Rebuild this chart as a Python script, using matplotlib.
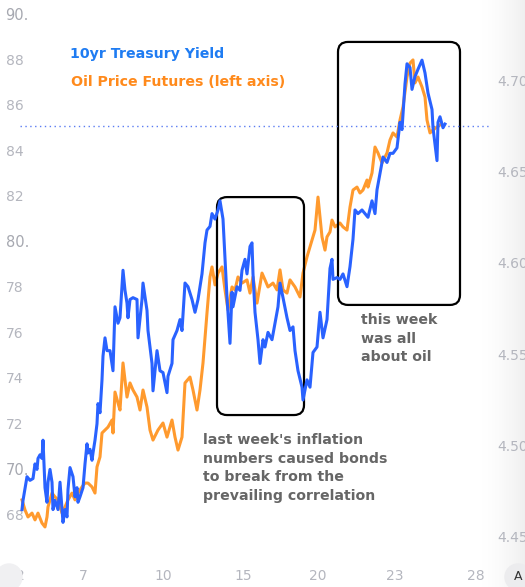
import matplotlib
matplotlib.use('Agg')
import matplotlib.pyplot as plt
import matplotlib.patches as mpatches
import numpy as np

# x positions are session bars
yieldBars = [2, 3, 7, 10, 13, 15, 17, 18, 20, 22, 23, 25, 27, 28, 30, 32, 33, 35, 38, 40,
             42, 43, 45, 47, 48, 50, 53, 55, 57, 58, 60, 63, 65, 67, 68, 70, 72, 73, 75, 77,
             78, 80, 82, 83, 85, 87, 90, 93, 95, 98, 100, 103, 105, 107, 108, 110, 113, 117, 118, 122,
             123, 127, 128, 132, 133, 137, 140, 143, 147, 148, 152, 153, 157, 160, 162, 165, 168, 172, 175, 178,
             182, 185, 187, 190, 192, 195, 198, 200, 203, 207, 210, 212, 213, 217, 220, 222, 225, 227, 230, 232,
             233, 235, 238, 240, 243, 245, 248, 252, 255, 258, 260, 263, 267, 270, 273, 275, 278, 282, 283, 287,
             290, 293, 297, 300, 303, 307, 310, 312, 313, 317, 320, 323, 327, 330, 333, 335, 338, 342, 345, 348,
             352, 355, 357, 360, 363, 367, 370, 373, 377, 380, 382, 385, 387, 390, 392, 395, 398, 402, 405, 408,
             412, 413, 417, 418, 420, 423, 425]
yieldValues = [4.465, 4.470, 4.483, 4.481, 4.482, 4.490, 4.487, 4.493, 4.495, 4.493,
               4.503, 4.477, 4.469, 4.480, 4.487, 4.480, 4.465, 4.470, 4.465, 4.480,
               4.465, 4.458, 4.465, 4.461, 4.476, 4.488, 4.483, 4.472, 4.477, 4.469,
               4.472, 4.477, 4.490, 4.501, 4.496, 4.498, 4.492, 4.496, 4.503, 4.512,
               4.523, 4.518, 4.536, 4.549, 4.559, 4.552, 4.552, 4.541, 4.576, 4.567,
               4.570, 4.596, 4.585, 4.578, 4.570, 4.580, 4.581, 4.580, 4.559, 4.580,
               4.589, 4.574, 4.563, 4.545, 4.530, 4.552, 4.541, 4.540, 4.529, 4.538,
               4.545, 4.558, 4.563, 4.569, 4.563, 4.589, 4.587, 4.580, 4.573, 4.580,
               4.594, 4.611, 4.618, 4.620, 4.627, 4.624, 4.629, 4.634, 4.624, 4.581,
               4.556, 4.584, 4.576, 4.587, 4.585, 4.596, 4.602, 4.594, 4.609, 4.611,
               4.594, 4.573, 4.558, 4.545, 4.558, 4.554, 4.562, 4.558, 4.567, 4.576,
               4.589, 4.581, 4.570, 4.563, 4.565, 4.552, 4.541, 4.532, 4.525, 4.536,
               4.532, 4.551, 4.554, 4.573, 4.559, 4.569, 4.597, 4.602, 4.591, 4.592,
               4.591, 4.594, 4.587, 4.598, 4.613, 4.629, 4.627, 4.629, 4.627, 4.625,
               4.634, 4.627, 4.640, 4.649, 4.658, 4.655, 4.660, 4.660, 4.663, 4.677,
               4.673, 4.698, 4.709, 4.707, 4.695, 4.702, 4.706, 4.711, 4.704, 4.693,
               4.684, 4.674, 4.656, 4.677, 4.680, 4.674, 4.676]

oilBars = [2, 5, 8, 12, 15, 18, 22, 25, 27, 28, 32, 35, 38, 42, 45, 48, 52, 55, 58, 62,
           65, 68, 72, 75, 77, 80, 82, 85, 88, 92, 93, 95, 98, 100, 103, 107, 110, 113, 117, 120,
           123, 127, 130, 133, 138, 143, 147, 152, 155, 158, 162, 165, 170, 173, 177, 180, 183, 187, 190, 192,
           195, 198, 202, 205, 208, 212, 215, 218, 222, 227, 230, 233, 237, 242, 245, 248, 253, 257, 260, 263,
           267, 270, 275, 280, 283, 287, 292, 295, 298, 302, 305, 307, 310, 312, 315, 320, 323, 327, 330, 333,
           337, 340, 343, 347, 348, 352, 355, 358, 362, 367, 370, 373, 377, 380, 383, 387, 390, 393, 395, 398,
           402, 405, 407, 410, 413, 417, 420]
oilValues = [68.62, 68.18, 67.87, 68.04, 67.74, 68.04, 67.60, 67.43, 67.87, 68.31,
             68.92, 68.75, 68.62, 68.04, 68.31, 68.62, 68.92, 68.62, 68.92, 69.19,
             69.36, 69.36, 69.19, 68.92, 70.07, 70.51, 71.56, 71.69, 71.82, 72.13,
             71.56, 73.36, 72.88, 72.57, 74.64, 73.14, 73.76, 73.45, 73.14, 72.57,
             73.45, 72.70, 71.69, 71.25, 71.69, 72.00, 71.38, 72.13, 71.38, 70.81,
             71.38, 73.76, 74.02, 73.45, 72.57, 73.45, 74.64, 76.84, 78.42, 78.86,
             78.07, 78.59, 78.86, 77.85, 76.97, 77.98, 77.85, 78.42, 78.15, 78.29,
             77.71, 78.42, 77.27, 78.59, 78.29, 77.98, 78.15, 77.85, 78.73, 77.85,
             77.71, 78.29, 77.98, 77.54, 78.59, 79.30, 80.04, 80.48, 81.93, 80.18,
             79.60, 80.18, 80.40, 80.92, 80.62, 80.79, 80.62, 80.48, 81.49, 82.24,
             82.37, 82.11, 82.24, 82.68, 82.37, 82.99, 84.13, 83.87, 83.43, 83.87,
             84.44, 84.75, 84.57, 85.32, 85.89, 87.21, 87.82, 87.96, 86.95, 87.21,
             86.77, 86.33, 85.32, 84.75, 84.88, 85.01, 85.10]

lastYield = 4.6747

oilTicks = [68, 70, 72, 74, 76, 78, 80, 82, 84, 86, 88, 90]
oilTickLabels = ['68', '70.', '72', '74', '76', '78', '80.', '82', '84', '86', '88', '90.']
yieldTicks = [4.45, 4.50, 4.55, 4.60, 4.65, 4.70]
yieldTickLabels = ['4.450', '4.500', '4.550', '4.600', '4.650', '4.700']
dayTicks = [0, 63, 143, 223, 298, 375, 456]
dayTickLabels = ['2', '7', '10', '15', '20', '23', '28']

# highlight boxes: [bar start, bar end, oil low, oil high]
boxInflation = [197, 284, 72.35, 81.93]
boxOilWeek = [318, 440, 77.19, 88.75]

noteInflation = "last week's inflation\nnumbers caused bonds\nto break from the\nprevailing correlation"
noteOilWeek = "this week\nwas all\nabout oil"

BLUE = '#2962ff'
ORANGE = '#ff9a2e'
NOTE_GREY = '#666666'
TICK_GREY = '#b4b6be'

W, H = 525, 587


def makeFigure():
    fig = plt.figure(figsize=(W / 100, H / 100), dpi=100, facecolor='white')
    addRightShade(fig)
    ax = fig.add_axes([0, 1 - 555 / H, 490 / W, 555 / H])
    ax.patch.set_alpha(0)
    ax2 = ax.twinx()
    ax2.patch.set_alpha(0)
    ax.set_zorder(1)
    ax2.set_zorder(2)
    return fig, ax, ax2


def addRightShade(fig):
    '''light gray gradient behind the price scale'''
    shade = fig.add_axes([478 / W, 0, 47 / W, 1], zorder=-5)
    grad = np.linspace(0, 1, 50).reshape(1, -1) ** 1.5
    shade.imshow(grad, aspect='auto', cmap='Greys', vmin=0, vmax=8, extent=[0, 1, 0, 1])
    shade.set_axis_off()


def drawLines(ax, ax2):
    ax.plot(oilBars, oilValues, color=ORANGE, lw=2.2, solid_joinstyle='round', zorder=3)
    ax2.plot(yieldBars, yieldValues, color=BLUE, lw=2.2, solid_joinstyle='round', zorder=3)
    ax2.axhline(lastYield, xmin=20 / 490, xmax=1, color='#5b7cf2', lw=1, ls=(0, (1, 2.5)), zorder=1)


def setAxes(ax, ax2):
    ax.set_xlim(-20, 470)
    ax.set_ylim(68 - 41 / 22.75, 68 + 514 / 22.75)
    ax2.set_ylim(4.45 - 18 / 1827, 4.45 + 537 / 1827)
    for a in (ax, ax2):
        for s in a.spines.values():
            s.set_visible(False)
    ax.set_xticks(dayTicks)
    ax.set_xticklabels(dayTickLabels)
    ax.tick_params(axis='x', length=0, pad=10, labelsize=10, labelcolor=TICK_GREY)
    ax.set_yticks(oilTicks)
    ax.set_yticklabels(oilTickLabels)
    ax.tick_params(axis='y', length=0, pad=-4, labelsize=10, labelcolor=TICK_GREY)
    for lab in ax.get_yticklabels():
        lab.set_horizontalalignment('left')
        if lab.get_text().endswith('.'):
            lab.set_color('#a6a8b0')
            lab.set_fontsize(10.5)
    ax2.set_yticks(yieldTicks)
    ax2.set_yticklabels(yieldTickLabels)
    ax2.tick_params(axis='y', length=0, pad=5, labelsize=10, labelcolor=TICK_GREY)
    ax2.set_xlim(ax.get_xlim())


def drawBox(ax, box):
    x0, x1, y0, y1 = box
    patch = mpatches.FancyBboxPatch((x0, y0), x1 - x0, y1 - y0,
                                    boxstyle='round,pad=0,rounding_size=10',
                                    mutation_aspect=1 / 22.75,
                                    fill=False, ec='black', lw=1.6, zorder=4)
    ax.add_patch(patch)


def drawText(ax):
    ax.text(70 / 490, 1 - 54 / 555, '10yr Treasury Yield', transform=ax.transAxes,
            color='#1f7cf2', fontsize=10.2, fontweight='bold', va='center', ha='left')
    ax.text(71 / 490, 1 - 82 / 555, 'Oil Price Futures (left axis)', transform=ax.transAxes,
            color='#ff8a1c', fontsize=10.2, fontweight='bold', va='center', ha='left')
    ax.text(203 / 490, 1 - 433 / 555, noteInflation, transform=ax.transAxes,
            color=NOTE_GREY, fontsize=10.2, fontweight='bold', va='top', ha='left', linespacing=1.41)
    ax.text(361 / 490, 1 - 313 / 555, noteOilWeek, transform=ax.transAxes,
            color=NOTE_GREY, fontsize=10.2, fontweight='bold', va='top', ha='left', linespacing=1.41)


def drawButtons(fig):
    '''the two round chart buttons along the bottom edge'''
    tr = fig.dpi_scale_trans
    fig.add_artist(mpatches.Circle((0.09, (H - 577) / 100), 0.13, transform=tr,
                                   color='#f0f0f2', zorder=10))
    fig.add_artist(mpatches.Circle((5.18, (H - 577) / 100), 0.13, transform=tr,
                                   color='#ececee', zorder=10))
    fig.text(5.18 / (W / 100), (H - 577) / H, 'A', ha='center', va='center',
             fontsize=9, color='#333333', zorder=11)


if __name__ == '__main__':
    fig, ax, ax2 = makeFigure()
    drawLines(ax, ax2)
    setAxes(ax, ax2)
    drawBox(ax, boxInflation)
    drawBox(ax, boxOilWeek)
    drawText(ax)
    drawButtons(fig)
    fig.savefig('out.png', dpi=100)
